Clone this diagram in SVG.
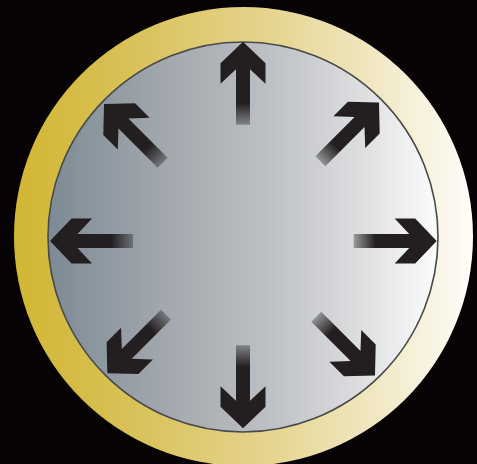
<svg xmlns="http://www.w3.org/2000/svg" width="477" height="464" viewBox="0 0 477 464">
  <defs>
    <linearGradient id="gold" x1="14" y1="0" x2="473" y2="0" gradientUnits="userSpaceOnUse">
      <stop offset="0" stop-color="#d2b633"/>
      <stop offset="0.25" stop-color="#d8c157"/>
      <stop offset="0.55" stop-color="#e5d48e"/>
      <stop offset="0.8" stop-color="#f1e9c6"/>
      <stop offset="1" stop-color="#fefefb"/>
    </linearGradient>
    <linearGradient id="steel" x1="48" y1="0" x2="438" y2="0" gradientUnits="userSpaceOnUse">
      <stop offset="0" stop-color="#7d8a94"/>
      <stop offset="0.3" stop-color="#a2a8ae"/>
      <stop offset="0.55" stop-color="#bbbec2"/>
      <stop offset="0.8" stop-color="#dcdee0"/>
      <stop offset="1" stop-color="#fcfcfd"/>
    </linearGradient>
    <linearGradient id="fade" x1="0" y1="0" x2="0" y2="1">
      <stop offset="0" stop-color="#231f20"/>
      <stop offset="0.74" stop-color="#231f20"/>
      <stop offset="1" stop-color="#231f20" stop-opacity="0.35"/>
    </linearGradient>
    <path id="arrow" d="M0,0 L22.5,21.5 L22.5,42 L7,27.5 L7,83 L-7,83 L-7,27.5 L-22.5,42 L-22.5,21.5 Z" fill="url(#fade)"/>
  </defs>
  <rect width="477" height="464" fill="#070304"/>
  <g id="outer-ring">
    <circle cx="243.5" cy="236.5" r="229.5" fill="url(#gold)"/>
  </g>
  <g id="inner-disc">
    <circle cx="243" cy="237" r="195" fill="url(#steel)" stroke="#4a4a4a" stroke-width="1.6"/>
  </g>
  <g id="arrow-n"><use href="#arrow" transform="translate(243,41.7)"/></g>
  <g id="arrow-s"><use href="#arrow" transform="translate(243,428.3) rotate(180)"/></g>
  <g id="arrow-w"><use href="#arrow" transform="translate(50,241) rotate(-90)"/></g>
  <g id="arrow-e"><use href="#arrow" transform="translate(436.7,241) rotate(90)"/></g>
  <g id="arrow-nw"><use href="#arrow" transform="translate(104,104) rotate(-45)"/></g>
  <g id="arrow-ne"><use href="#arrow" transform="translate(379,102.5) rotate(45)"/></g>
  <g id="arrow-sw"><use href="#arrow" transform="translate(107.3,373.3) rotate(-135)"/></g>
  <g id="arrow-se"><use href="#arrow" transform="translate(375,375.5) rotate(135)"/></g>
</svg>
